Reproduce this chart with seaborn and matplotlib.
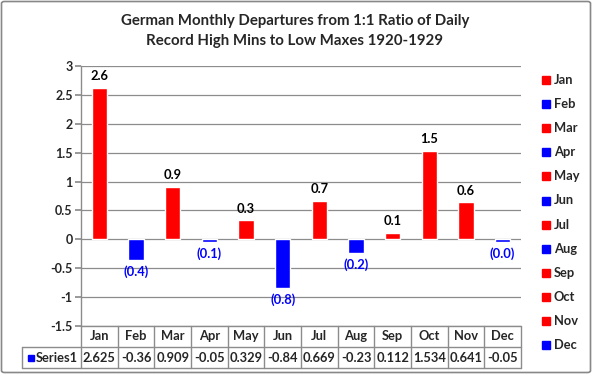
import matplotlib
matplotlib.use("Agg")
import matplotlib.pyplot as plt
import seaborn as sns
import pandas as pd
from matplotlib.lines import Line2D
from matplotlib.patches import FancyBboxPatch

months = ["Jan", "Feb", "Mar", "Apr", "May", "Jun", "Jul", "Aug", "Sep", "Oct", "Nov", "Dec"]
values = [2.625, -0.36, 0.909, -0.05, 0.329, -0.84, 0.669, -0.23, 0.112, 1.534, 0.641, -0.05]
table_text = ["2.625", "-0.36", "0.909", "-0.05", "0.329", "-0.84", "0.669", "-0.23", "0.112", "1.534", "0.641", "-0.05"]
bar_labels = ["2.6", "(0.4)", "0.9", "(0.1)", "0.3", "(0.8)", "0.7", "(0.2)", "0.1", "1.5", "0.6", "(0.0)"]
colors = ["#FF0000" if v >= 0 else "#0000FF" for v in values]
title = "German Monthly Departures from 1:1 Ratio of Daily\nRecord High Mins to Low Maxes 1920-1929"

sns.set_theme(style="white")
plt.rcParams["font.family"] = ["Lato", "DejaVu Sans"]

W, H = 592, 374
fig = plt.figure(figsize=(W / 100, H / 100), dpi=100)
fig.patch.set_facecolor("white")

# outer border
fig.patches.append(FancyBboxPatch((1.5 / W, 1.5 / H), (W - 3) / W, (H - 3) / H,
                                  boxstyle="round,pad=0,rounding_size=0.005",
                                  transform=fig.transFigure, fill=False,
                                  edgecolor="#888888", linewidth=1.2))

x0, x1 = 81, 521
ytop, ybot = 66, 326
ax = fig.add_axes([x0 / W, 1 - ybot / H, (x1 - x0) / W, (ybot - ytop) / H])

df = pd.DataFrame({"month": months, "value": values})
sns.barplot(data=df, x="month", y="value", hue="month", palette=colors,
            dodge=False, legend=False, width=0.42, ax=ax, saturation=1)

ax.set_ylim(-1.5, 3)
ax.set_yticks([-1.5, -1, -0.5, 0, 0.5, 1, 1.5, 2, 2.5, 3])
ax.set_yticklabels(["-1.5", "-1", "-0.5", "0", "0.5", "1", "1.5", "2", "2.5", "3"],
                   fontsize=9, fontweight="bold")
ax.set_xlim(-0.5, 11.5)
ax.set_xticks([])
ax.set_xlabel("")
ax.set_ylabel("")
ax.yaxis.grid(True, color="#8c8c8c", linewidth=0.9)
ax.set_axisbelow(True)
for s in ["top", "right", "bottom"]:
    ax.spines[s].set_visible(False)
ax.spines["left"].set_color("#8c8c8c")
ax.spines["left"].set_linewidth(1.0)
ax.tick_params(axis="y", which="both", left=True, length=4, color="#8c8c8c", pad=2)

for i, (v, lab) in enumerate(zip(values, bar_labels)):
    if v >= 0:
        ax.annotate(lab, (i, v), xytext=(0, 4), textcoords="offset points",
                    ha="center", va="bottom", fontsize=9.3, fontweight="bold", color="black")
    else:
        ax.annotate(lab, (i, v), xytext=(0, -4), textcoords="offset points",
                    ha="center", va="top", fontsize=9.3, fontweight="bold", color="#0000FF")

# data table
tl, tr = 22, x1
r0, r1, r2 = 326, 347, 368
gc = "#8c8c8c"
def hline(y, xa, xb):
    fig.add_artist(Line2D([xa / W, xb / W], [1 - y / H, 1 - y / H], color=gc, lw=1.0))
def vline(x, ya, yb):
    fig.add_artist(Line2D([x / W, x / W], [1 - ya / H, 1 - yb / H], color=gc, lw=1.0))
hline(r0, x0, x1)
hline(r1, tl, x1)
hline(r2, tl, x1)
vline(tl, r1, r2)
cw = (x1 - x0) / 12
for k in range(13):
    vline(x0 + k * cw, r0, r2)
for k, (m, t) in enumerate(zip(months, table_text)):
    cx = x0 + (k + 0.5) * cw
    fig.text(cx / W, 1 - (r0 + r1) / 2 / H, m, ha="center", va="center",
             fontsize=9.3, fontweight="bold")
    fig.text(cx / W, 1 - (r1 + r2) / 2 / H, t, ha="center", va="center",
             fontsize=9.3, fontweight="bold")
fig.add_artist(Line2D([31 / W], [1 - (r1 + r2) / 2 / H], marker="s", markersize=5,
                      color="#0000FF", linestyle="none"))
fig.text(36 / W, 1 - (r1 + r2) / 2 / H, "Series1", ha="left", va="center",
         fontsize=9.3, fontweight="bold")

# legend
ly0, ldy = 80, 24.1
for k, (m, c) in enumerate(zip(months, colors)):
    y = ly0 + k * ldy
    fig.add_artist(Line2D([546 / W], [1 - y / H], marker="s", markersize=5.5,
                          color=c, linestyle="none"))
    fig.text(554 / W, 1 - y / H, m, ha="left", va="center", fontsize=9.3, fontweight="bold")

fig.text(295 / W, 1 - 31 / H, title, ha="center", va="center",
         fontsize=10.8, fontweight="bold", linespacing=1.55)

fig.savefig("out.png", dpi=100)
